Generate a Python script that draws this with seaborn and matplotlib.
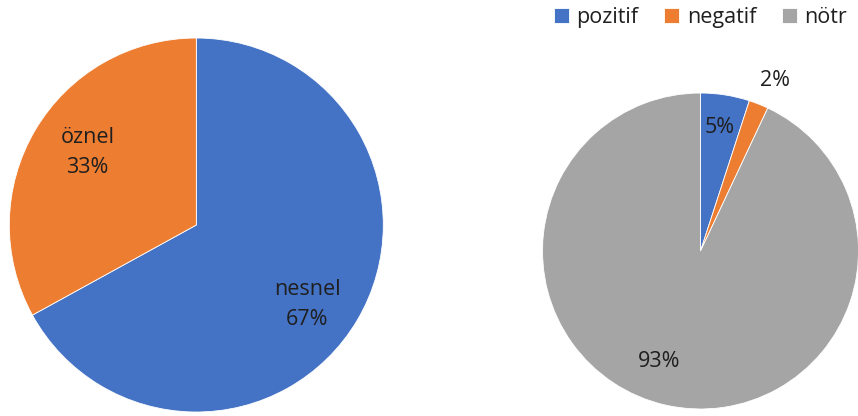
import numpy as np
import matplotlib
matplotlib.use('Agg')
import matplotlib.pyplot as plt
import seaborn as sns

sns.set_style('white')
plt.rcParams['font.family'] = ['Open Sans', 'DejaVu Sans']

# ── Data ──────────────────────────────────────────────────────────────────────
left_labels  = ['nesnel', 'öznel']
left_values  = [67, 33]
right_labels = ['pozitif', 'negatif', 'nötr']
right_values = [5, 2, 93]

BLUE, ORANGE, GRAY = '#4472C4', '#ED7D31', '#A5A5A5'
TEXT = '#1f1f1f'
FS = 15.5

fig = plt.figure(figsize=(8.58, 4.16), dpi=100)


def draw_pie(rect, values, colors):
    ax = fig.add_axes(rect)
    wedges, _ = ax.pie(values, colors=colors, startangle=90, counterclock=False,
                       wedgeprops=dict(linewidth=0.6, edgecolor='white'))
    ax.set_xlim(-1, 1)
    ax.set_ylim(-1, 1)
    ax.set_aspect('equal')
    ax.axis('off')
    return ax, wedges


def place(ax, wedge, text, r, dtheta=0.0):
    ang = np.deg2rad((wedge.theta1 + wedge.theta2) / 2 + dtheta)
    ax.text(r * np.cos(ang), r * np.sin(ang), text, ha='center', va='center',
            fontsize=FS, color=TEXT, linespacing=1.55)


# ── Left pie ──────────────────────────────────────────────────────────────────
axl, wl = draw_pie([0.0108, 0.0096, 0.436, 0.899], left_values, [BLUE, ORANGE])
place(axl, wl[0], f'{left_labels[0]}\n{left_values[0]}%', 0.73, -5)
place(axl, wl[1], f'{left_labels[1]}\n{left_values[1]}%', 0.70, -3)

# ── Right pie ─────────────────────────────────────────────────────────────────
axr, wr = draw_pie([0.6323, 0.0168, 0.3683, 0.7596], right_values,
                   [BLUE, ORANGE, GRAY])
place(axr, wr[0], f'{right_values[0]}%', 0.79)
place(axr, wr[1], f'{right_values[1]}%', 1.18, -2)
place(axr, wr[2], f'{right_values[2]}%', 0.75, -8)

fig.legend(wr, right_labels, loc='upper right', bbox_to_anchor=(1.01, 1.03),
           ncol=3, frameon=False, fontsize=FS, handlelength=0.7,
           handleheight=0.7, handletextpad=0.35, columnspacing=1.2,
           labelcolor=TEXT)

plt.savefig('out.png', dpi=100)
plt.close()
